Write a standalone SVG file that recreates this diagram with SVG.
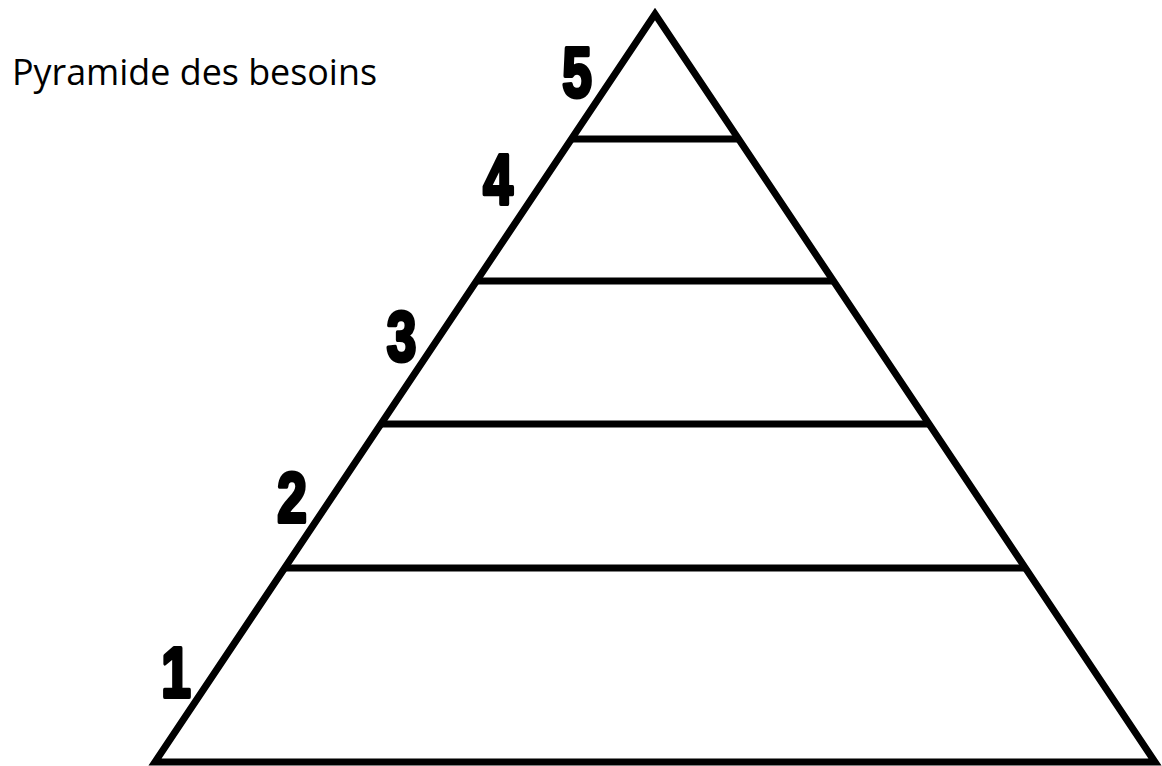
<svg xmlns="http://www.w3.org/2000/svg" width="1162" height="766" viewBox="0 0 1162 766">
<style>
.ln{stroke:#000;stroke-width:7;fill:none;stroke-linejoin:miter;stroke-linecap:butt}
.num{font-family:"Liberation Sans",Arial,sans-serif;font-weight:bold;font-size:70px;fill:#000;stroke:#000;stroke-width:4;stroke-linejoin:round;text-anchor:middle}
.title{font-family:"Open Sans","Liberation Sans",sans-serif;font-size:36px;fill:#000}
</style>
<rect width="1162" height="766" fill="#fff"/>
<text class="title" x="12" y="85" textLength="365" lengthAdjust="spacingAndGlyphs">Pyramide des besoins</text>
<g id="connectors">
<polygon class="ln" points="655,14 1155,762 155,762"/>
<line class="ln" x1="571" y1="139" x2="739" y2="139"/>
<line class="ln" x1="476" y1="281" x2="834" y2="281"/>
<line class="ln" x1="380" y1="424" x2="930" y2="424"/>
<line class="ln" x1="284" y1="568" x2="1026" y2="568"/>
</g>
<g id="label5"><text class="num" transform="translate(577,97) scale(0.76,1)">5</text></g>
<g id="label4"><text class="num" transform="translate(498,204) scale(0.76,1)">4</text></g>
<g id="label3"><text class="num" transform="translate(401.5,361) scale(0.76,1)">3</text></g>
<g id="label2"><text class="num" transform="translate(292,522) scale(0.76,1)">2</text></g>
<g id="label1"><text class="num" transform="translate(176,697) scale(0.76,1)">1</text></g>
</svg>
